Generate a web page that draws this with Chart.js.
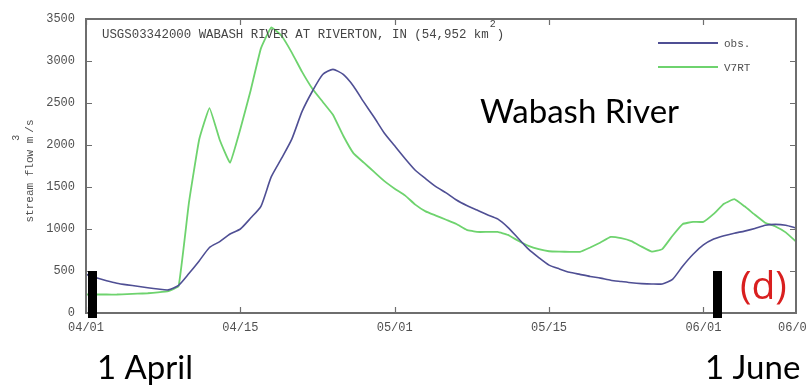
<!DOCTYPE html>
<html>
<head>
<meta charset="utf-8">
<script src="https://cdn.jsdelivr.net/npm/chart.js@4.4.1/dist/chart.umd.min.js"></script>
<style>
  html, body { margin: 0; padding: 0; background: #ffffff; overflow: hidden; }
  #wrap { position: relative; width: 830px; height: 387px; }
</style>
</head>
<body>
<div id="wrap"><canvas id="c" width="830" height="387"></canvas></div>
<script>
// Daily stream flow (m^3/s), one value per day starting 1 April
const obsFlow = [
  460, 420, 385, 355, 335, 318, 300, 285, 275, 330,
  470, 620, 780, 850, 940, 1000, 1130, 1270, 1620, 1840,
  2070, 2400, 2640, 2840, 2900, 2840, 2700, 2510, 2330, 2140,
  1990, 1840, 1700, 1600, 1505, 1430, 1345, 1280, 1225, 1170,
  1120, 1020, 890, 760, 660, 570, 525, 485, 460, 435,
  415, 390, 375, 360, 350, 345, 346, 400, 560, 700,
  810, 880, 920, 950, 975, 1005, 1045, 1055, 1045, 1013
];
const v7rtFlow = [
  220, 220, 220, 220, 225, 230, 235, 245, 260, 320,
  1310, 2065, 2440, 2060, 1790, 2190, 2650, 3150, 3400, 3300,
  3100, 2870, 2670, 2515, 2360, 2110, 1900, 1790, 1680, 1570,
  1480, 1400, 1290, 1210, 1160, 1110, 1060, 990, 965, 965,
  965, 930, 860, 800, 760, 735, 730, 728, 728, 780,
  840, 905, 890, 855, 790, 730, 760, 920, 1060, 1085,
  1085, 1180, 1300, 1355, 1270, 1170, 1075, 1030, 960, 850
];
const seriesNames = ['obs.', 'V7RT'];
const xTickDays = [0, 15, 30, 45, 60, 69];
const xTickLabels = ['04/01', '04/15', '05/01', '05/15', '06/01', '06/09'];
const yTicks = [0, 500, 1000, 1500, 2000, 2500, 3000, 3500];
const stationTitle = 'USGS03342000 WABASH RIVER AT RIVERTON, IN (54,952 km';
const riverName = 'Wabash River';
const panelTag = '(d)';
const markerDays = [0.6, 61.3];
const markerNames = ['1 April', '1 June'];

const OBS_COLOR = '#4f4f94';
const V7RT_COLOR = '#6ed36e';
const AXIS_COLOR = '#6e6e6e';
const TEXT_COLOR = '#505050';
const MONO = '"Liberation Mono", "DejaVu Sans Mono", monospace';

const toPoints = arr => arr.map((v, i) => ({ x: i, y: v }));

// Frame, inward ticks, axis title, station title, legend and annotations
const decorations = {
  id: 'decorations',
  afterDatasetsDraw(chart) {
    const { ctx, chartArea: a, scales: { x, y } } = chart;
    ctx.save();

    // frame
    ctx.strokeStyle = AXIS_COLOR;
    ctx.lineWidth = 2;
    ctx.strokeRect(a.left, a.top, a.right - a.left, a.bottom - a.top);

    // inward tick marks on all four sides
    ctx.lineWidth = 1.2;
    ctx.beginPath();
    xTickDays.slice(0, -1).forEach(d => {
      const px = Math.round(x.getPixelForValue(d)) + 0.5;
      ctx.moveTo(px, a.bottom); ctx.lineTo(px, a.bottom - 6);
      ctx.moveTo(px, a.top); ctx.lineTo(px, a.top + 6);
    });
    yTicks.forEach(v => {
      const py = Math.round(y.getPixelForValue(v)) + 0.5;
      ctx.moveTo(a.left, py); ctx.lineTo(a.left + 6, py);
      ctx.moveTo(a.right, py); ctx.lineTo(a.right - 6, py);
    });
    ctx.stroke();

    // y axis title, rotated, with superscript 3
    ctx.save();
    ctx.translate(30, 171);
    ctx.rotate(-Math.PI / 2);
    ctx.fillStyle = TEXT_COLOR;
    ctx.font = '11px ' + MONO;
    ctx.textBaseline = 'middle';
    const partA = 'stream flow m', partB = '/s';
    const wA = ctx.measureText(partA).width, wB = ctx.measureText(partB).width;
    const total = wA + 4 + wB;
    ctx.textAlign = 'left';
    ctx.fillText(partA, -total / 2, 0);
    ctx.fillText(partB, -total / 2 + wA + 4, 0);
    ctx.font = '10px ' + MONO;
    ctx.fillText('3', -total / 2 + wA - 4, -14);
    ctx.restore();

    // station title
    ctx.fillStyle = '#454545';
    ctx.font = '12.4px ' + MONO;
    ctx.textBaseline = 'alphabetic';
    ctx.textAlign = 'left';
    const tx = a.left + 16, ty = a.top + 19;
    ctx.fillText(stationTitle, tx, ty);
    const tw = ctx.measureText(stationTitle).width;
    ctx.font = '10px ' + MONO;
    ctx.fillText('2', tx + tw + 1, ty - 11);
    ctx.font = '12.4px ' + MONO;
    ctx.fillText(')', tx + tw + 8, ty);

    // legend
    const lx0 = 658, lx1 = 718;
    [[OBS_COLOR, 43, seriesNames[0]], [V7RT_COLOR, 67, seriesNames[1]]].forEach(([col, ly, name]) => {
      ctx.strokeStyle = col;
      ctx.lineWidth = 2;
      ctx.beginPath(); ctx.moveTo(lx0, ly); ctx.lineTo(lx1, ly); ctx.stroke();
      ctx.fillStyle = TEXT_COLOR;
      ctx.font = '11px ' + MONO;
      ctx.textBaseline = 'middle';
      ctx.fillText(name, 724, ly + 1);
    });

    // river name
    ctx.fillStyle = '#000000';
    ctx.font = '33px Lato, "Open Sans", sans-serif';
    ctx.textBaseline = 'alphabetic';
    ctx.textAlign = 'left';
    ctx.fillText(riverName, 480, 123);

    // panel tag
    ctx.fillStyle = '#d91f1f';
    ctx.font = '39px "Open Sans", Lato, sans-serif';
    ctx.fillText(panelTag, 740, 299);

    // date markers and their captions
    ctx.fillStyle = '#000000';
    markerDays.forEach(d => {
      const px = x.getPixelForValue(d);
      ctx.fillRect(Math.round(px) - 4, 271, 9, 47);
    });
    ctx.font = '33px Lato, "Open Sans", sans-serif';
    ctx.fillText(markerNames[0], 97, 379);
    ctx.fillText(markerNames[1], 705, 379);

    ctx.restore();
  }
};

new Chart(document.getElementById('c'), {
  type: 'line',
  data: {
    datasets: [
      { label: seriesNames[0], data: toPoints(obsFlow), borderColor: OBS_COLOR, borderWidth: 1.6, pointRadius: 0, tension: 0.2, order: 1 },
      { label: seriesNames[1], data: toPoints(v7rtFlow), borderColor: V7RT_COLOR, borderWidth: 1.8, pointRadius: 0, tension: 0.1, order: 2 }
    ]
  },
  options: {
    responsive: false,
    animation: false,
    events: [],
    layout: { padding: { top: 19, right: 34, bottom: 0, left: 0 } },
    plugins: { legend: { display: false }, tooltip: { enabled: false } },
    scales: {
      x: {
        type: 'linear',
        min: 0,
        max: 69,
        afterBuildTicks: s => { s.ticks = xTickDays.map(v => ({ value: v })); },
        afterFit: s => { s.height = 74; },
        grid: { display: false, drawTicks: false },
        border: { display: false },
        ticks: {
          autoSkip: false,
          maxRotation: 0,
          padding: 8,
          color: TEXT_COLOR,
          font: { family: MONO, size: 12 },
          callback: (v) => xTickLabels[xTickDays.indexOf(v)] ?? ''
        }
      },
      y: {
        min: 0,
        max: 3500,
        afterBuildTicks: s => { s.ticks = yTicks.map(v => ({ value: v })); },
        afterFit: s => { s.width = 86; },
        grid: { display: false, drawTicks: false },
        border: { display: false },
        ticks: {
          padding: 11,
          color: TEXT_COLOR,
          font: { family: MONO, size: 12 },
          callback: v => String(v)
        }
      }
    }
  },
  plugins: [decorations]
});
</script>
</body>
</html>
